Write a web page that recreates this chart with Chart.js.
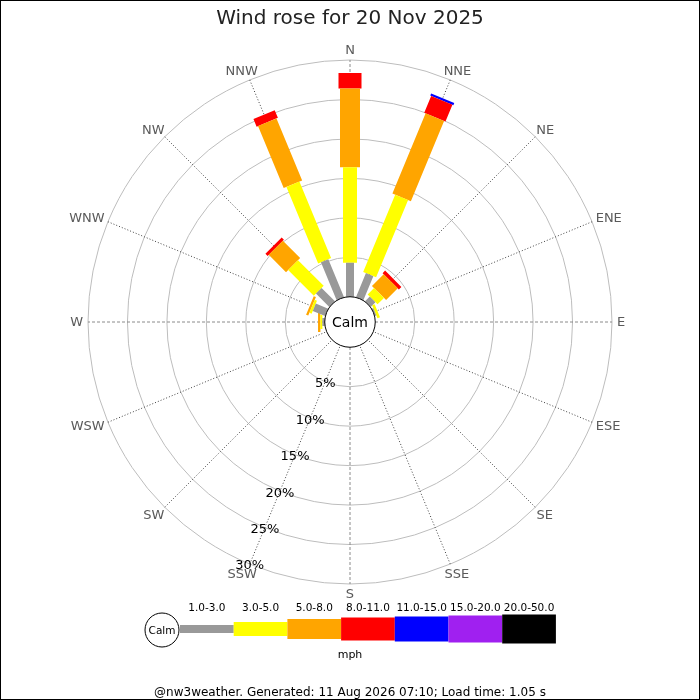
<!DOCTYPE html>
<html>
<head>
<meta charset="utf-8">
<title>Wind rose for 20 Nov 2025</title>
<script src="https://cdn.jsdelivr.net/npm/chart.js@4.4.1/dist/chart.umd.min.js"></script>
<style>
  html, body { margin: 0; padding: 0; background: #fff; }
  #wrap { width: 700px; height: 700px; }
</style>
</head>
<body>
<div id="wrap"><canvas id="rose" width="700" height="700"></canvas></div>
<script>
// compass points, clockwise from north
const directions = ['N', 'NNE', 'NE', 'ENE', 'E', 'ESE', 'SE', 'SSE', 'S', 'SSW', 'SW', 'WSW', 'W', 'WNW', 'NW', 'NNW'];
const speedBins = ['1.0-3.0', '3.0-5.0', '5.0-8.0', '8.0-11.0', '11.0-15.0', '15.0-20.0', '20.0-50.0'];

// % of the day in each direction, one array per speed bin (mph)
const speed1to3   = [4.3, 3.3, 0.85, 0.2, 0, 0, 0, 0, 0, 0, 0, 0, 0.3, 1.7, 2.4, 5.2];
const speed3to5   = [12.1, 10.6, 1.15, 0.35, 0, 0, 0, 0, 0, 0, 0, 0, 0.25, 0.3, 4.6, 10.5];
const speed5to8   = [10.0, 11.0, 2.1, 0, 0, 0, 0, 0, 0, 0, 0, 0, 0.3, 0.3, 3.1, 8.5];
const speed8to11  = [1.95, 2.3, 0.45, 0, 0, 0, 0, 0, 0, 0, 0, 0, 0, 0, 0.4, 1.05];
const speed11to15 = [0, 0.3, 0, 0, 0, 0, 0, 0, 0, 0, 0, 0, 0, 0, 0, 0];
const speed15to20 = [0, 0, 0, 0, 0, 0, 0, 0, 0, 0, 0, 0, 0, 0, 0, 0];
const speed20to50 = [0, 0, 0, 0, 0, 0, 0, 0, 0, 0, 0, 0, 0, 0, 0, 0];

const ringTicks = [5, 10, 15, 20, 25, 30];

// styles
const binColors = ['#999999', '#ffff00', '#ffa500', '#ff0000', '#0000ff', '#a020f0', '#000000'];
const binWidths = [8, 14, 20, 23, 25, 27, 29];
const FONT = '"DejaVu Sans", sans-serif';

// radial scale: values below 0 make the hole for the calm circle
const R_MIN = -3.2;
const R_MAX = 30;
const SPAN = R_MAX - R_MIN;

const series = [speed1to3, speed3to5, speed5to8, speed8to11, speed11to15, speed15to20, speed20to50];

// each speed bin is one line dataset, one thick segment per direction, stacked outwards
const stackBase = directions.map(() => 0);
const binDatasets = series.map((values, b) => {
  const pts = [];
  values.forEach((v, i) => {
    if (!v) return;
    const a = i * 2 * Math.PI / directions.length;
    const u0 = stackBase[i] - R_MIN;
    const u1 = stackBase[i] + v - R_MIN;
    pts.push({x: u0 * Math.sin(a), y: u0 * Math.cos(a)});
    pts.push({x: u1 * Math.sin(a), y: u1 * Math.cos(a)});
    pts.push({x: null, y: null});
    stackBase[i] += v;
  });
  return {
    label: speedBins[b],
    data: pts,
    showLine: true,
    spanGaps: false,
    borderColor: binColors[b],
    borderWidth: binWidths[b],
    borderCapStyle: 'butt',
    pointRadius: 0,
    order: 1
  };
});

const calmDataset = {
  label: 'Calm',
  data: [{x: 0, y: 0}],
  showLine: false,
  pointRadius: (c) => c.chart.scales.r ? c.chart.scales.r.getDistanceFromCenterForValue(0) : 25,
  pointBackgroundColor: '#ffffff',
  pointBorderColor: '#000000',
  pointBorderWidth: 1,
  order: 0
};

const roseText = {
  id: 'roseText',
  afterDatasetsDraw(chart) {
    const r = chart.scales.r;
    const ctx = chart.ctx;
    ctx.save();
    ctx.textAlign = 'center';
    ctx.textBaseline = 'middle';
    // compass labels
    ctx.font = '13px ' + FONT;
    ctx.fillStyle = '#5a5a5a';
    directions.forEach((d, i) => {
      const p = r.getPointPosition(i, r.drawingArea + 5);
      const a = r.getIndexAngle(i);
      const w = ctx.measureText(d).width;
      ctx.fillText(d, p.x + Math.sin(a) * (w / 2), p.y - Math.cos(a) * 5 + 1);
    });
    // ring percentages along the SSW line
    ctx.fillStyle = '#000000';
    const ssw = directions.indexOf('SSW');
    ringTicks.forEach((v) => {
      const p = r.getPointPositionForValue(ssw, v);
      ctx.fillText(v + '%', p.x, p.y + 2);
    });
    ctx.font = '14px ' + FONT;
    ctx.fillText('Calm', r.xCenter, r.yCenter + 1);
    ctx.restore();
  },
  afterDraw(chart) {
    const ctx = chart.ctx;
    ctx.save();
    // speed key
    const keyX = 180, keyY = 629, blockW = 53.7;
    ctx.lineWidth = 1;
    ctx.strokeStyle = '#000';
    ctx.fillStyle = '#fff';
    ctx.beginPath();
    ctx.arc(162, 630, 17, 0, 2 * Math.PI);
    ctx.fill();
    ctx.stroke();
    ctx.fillStyle = '#000';
    ctx.textAlign = 'center';
    ctx.textBaseline = 'middle';
    ctx.font = '10.5px ' + FONT;
    ctx.fillText('Calm', 162, 631);
    speedBins.forEach((lab, b) => {
      const x = keyX + b * blockW;
      const h = binWidths[b];
      ctx.fillStyle = binColors[b];
      ctx.fillRect(x, keyY - h / 2, blockW, h);
      ctx.fillStyle = '#000';
      ctx.fillText(lab, x + blockW / 2, 608);
    });
    ctx.font = '11px ' + FONT;
    ctx.fillText('mph', 350, 655);
    // frame
    ctx.strokeStyle = '#000';
    ctx.strokeRect(0.5, 0.5, chart.width - 1, chart.height - 1);
    ctx.restore();
  }
};

Chart.defaults.font.family = FONT;

new Chart(document.getElementById('rose'), {
  type: 'scatter',
  data: {
    labels: directions,
    datasets: [calmDataset].concat(binDatasets)
  },
  options: {
    responsive: false,
    animation: false,
    events: [],
    layout: { padding: { left: 88, right: 88, top: 0, bottom: 0 } },
    scales: {
      x: { type: 'linear', display: false, min: -SPAN, max: SPAN },
      y: { type: 'linear', display: false, min: -SPAN, max: SPAN },
      r: {
        type: 'radialLinear',
        min: R_MIN,
        max: R_MAX,
        ticks: { display: false, stepSize: 5 },
        pointLabels: { display: false },
        grid: {
          circular: true,
          lineWidth: 1,
          color: (c) => (c.tick && c.tick.value > 0) ? '#bdbdbd' : 'rgba(0,0,0,0)'
        },
        angleLines: {
          lineWidth: 1,
          color: (c) => c.index % 4 === 0 ? '#8a8a8a' : '#404040',
          borderDash: (c) => c.index % 4 === 0 ? [3, 2] : [1, 2]
        }
      }
    },
    plugins: {
      legend: { display: false },
      tooltip: { enabled: false },
      title: {
        display: true,
        text: 'Wind rose for 20 Nov 2025',
        color: '#222222',
        font: { size: 20, weight: 'normal' },
        padding: { top: 7, bottom: 29 }
      },
      subtitle: {
        display: true,
        position: 'bottom',
        text: '@nw3weather. Generated: 11 Aug 2026 07:10; Load time: 1.05 s',
        color: '#000000',
        font: { size: 12, weight: 'normal' },
        padding: { top: 101.6, bottom: 0 }
      }
    }
  },
  plugins: [roseText]
});
</script>
</body>
</html>
